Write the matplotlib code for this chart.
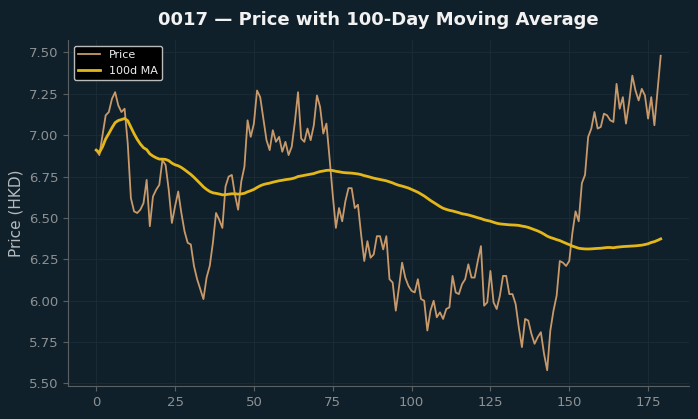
import numpy as np
import pandas as pd
import matplotlib
matplotlib.use("Agg")
import matplotlib.pyplot as plt

# daily closing prices (index 0..179)
price = [
    6.91, 6.88, 7.00, 7.12, 7.14, 7.22, 7.26, 7.18, 7.14, 7.16,
    6.95, 6.62, 6.54, 6.53, 6.55, 6.59, 6.73, 6.45, 6.63, 6.67,
    6.70, 6.85, 6.82, 6.67, 6.47, 6.57, 6.66, 6.53, 6.42, 6.35,
    6.34, 6.21, 6.13, 6.07, 6.01, 6.14, 6.21, 6.35, 6.53, 6.49,
    6.44, 6.69, 6.75, 6.76, 6.64, 6.55, 6.72, 6.81, 7.09, 6.99,
    7.07, 7.27, 7.23, 7.10, 6.97, 6.91, 7.03, 6.96, 6.99, 6.90,
    6.96, 6.88, 6.93, 7.08, 7.26, 6.98, 6.96, 7.04, 6.97, 7.06,
    7.24, 7.17, 7.01, 7.07, 6.86, 6.64, 6.44, 6.56, 6.48, 6.60,
    6.68, 6.68, 6.56, 6.58, 6.40, 6.24, 6.36, 6.26, 6.28, 6.39,
    6.39, 6.31, 6.39, 6.13, 6.11, 5.94, 6.08, 6.23, 6.14, 6.09,
    6.06, 6.05, 6.13, 6.01, 6.00, 5.82, 5.94, 6.00, 5.90, 5.93,
    5.89, 5.95, 5.96, 6.15, 6.05, 6.04, 6.10, 6.13, 6.22, 6.14,
    6.14, 6.24, 6.33, 5.97, 5.99, 6.18, 5.99, 5.95, 6.03, 6.15,
    6.15, 6.04, 6.04, 5.98, 5.84, 5.72, 5.89, 5.88, 5.80, 5.74,
    5.78, 5.81, 5.68, 5.58, 5.82, 5.94, 6.03, 6.24, 6.23, 6.21,
    6.24, 6.41, 6.54, 6.48, 6.71, 6.76, 6.99, 7.04, 7.14, 7.04,
    7.05, 7.13, 7.12, 7.09, 7.08, 7.31, 7.16, 7.23, 7.07, 7.20,
    7.36, 7.27, 7.21, 7.28, 7.24, 7.10, 7.23, 7.06, 7.27, 7.48,
]
window = 100

s = pd.Series(price)
ma = s.rolling(window, min_periods=1).mean()

bg = "#10202a"
fig = plt.figure(figsize=(6.98, 4.19), dpi=100, facecolor=bg)
ax = fig.add_axes([0.0974, 0.0788, 0.8896, 0.8257], facecolor=bg)

ax.plot(s.index, s.values, color="#c8996a", lw=1.3, label="Price")
ax.plot(ma.index, ma.values, color="#e3b71a", lw=2.0, label=f"{window}d MA")

ax.grid(True, color="#1d2d36", lw=0.6)
for side in ["top", "right"]:
    ax.spines[side].set_visible(False)
for side in ["left", "bottom"]:
    ax.spines[side].set_color("#5a5f62")
ax.tick_params(colors="#5a5f62", labelcolor="#8c9194", labelsize=9.5)
ax.set_xticks([0, 25, 50, 75, 100, 125, 150, 175])
ax.set_yticks(np.arange(5.5, 7.51, 0.25))
ax.yaxis.set_major_formatter(matplotlib.ticker.FormatStrFormatter("%.2f"))

ax.set_ylabel("Price (HKD)", color="#b5babd", fontsize=11)
ax.set_title("0017 \u2014 Price with 100-Day Moving Average", color="#f2f2f2",
             fontsize=13, fontweight="bold", pad=11)

leg = ax.legend(loc="upper left", facecolor="black", edgecolor="#bbbbbb",
                fontsize=8, framealpha=1.0)
for t in leg.get_texts():
    t.set_color("#eeeeee")

fig.savefig("out.png", dpi=100, facecolor=bg)
